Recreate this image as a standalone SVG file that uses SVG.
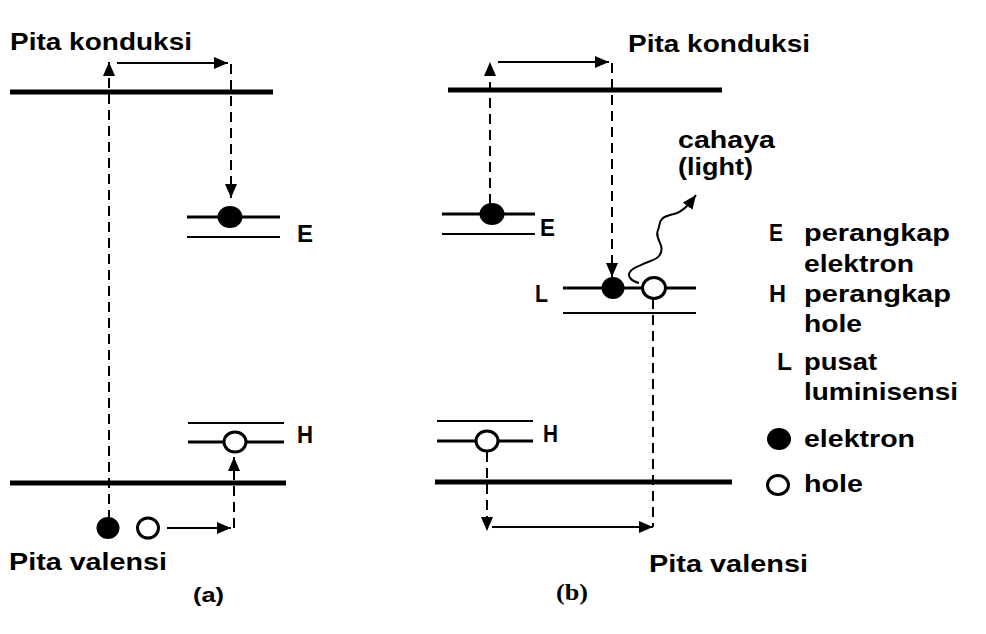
<svg xmlns="http://www.w3.org/2000/svg" width="986" height="634" viewBox="0 0 986 634">
<style>
.t{font-family:"Liberation Sans",Arial,sans-serif;font-weight:bold;font-size:24px;fill:#000}
.band{stroke:#000;stroke-width:5;fill:none}
.lvl{stroke:#000;stroke-width:3;fill:none}
.lvl2{stroke:#000;stroke-width:2;fill:none}
.dash{stroke:#000;stroke-width:2;fill:none;stroke-dasharray:10 6}
.sol{stroke:#000;stroke-width:2;fill:none}
.el{fill:#000}
.ho{fill:#fff;stroke:#000;stroke-width:3}
</style>
<defs>
<marker id="ah" viewBox="0 0 14 12" refX="14" refY="6" markerWidth="14" markerHeight="12" markerUnits="userSpaceOnUse" orient="auto">
<path d="M0,0 L14,6 L0,12 z" fill="#000"/>
</marker>
</defs>
<rect width="986" height="634" fill="#fff"/>

<g id="connectors">
<path class="dash" d="M109,520 L109,62" marker-end="url(#ah)"/>
<path class="sol" d="M117,63 L228,63" marker-end="url(#ah)"/>
<path class="dash" d="M231,64 L231,198" marker-end="url(#ah)"/>
<path class="dash" d="M234,528 L234,457" marker-end="url(#ah)"/>
<path class="sol" d="M167,528 L231,528" marker-end="url(#ah)"/>
<path class="dash" d="M490,204 L490,62" marker-end="url(#ah)"/>
<path class="sol" d="M498,62 L609,62" marker-end="url(#ah)"/>
<path class="dash" d="M612,63 L612,277" marker-end="url(#ah)"/>
<path class="sol" d="M639,283 C631,281 627,276 630,272 C633,267 638,267 643,264 C650,261 656,260 659,256 C663,251 662,247 660,243 C658,238 656,235 658,230 C660,225 659,222 662,219 C666,215 672,215 677,213 C682,211 685,208 688,205 C691,202 693,199 696,195" marker-end="url(#ah)"/>
<path class="dash" d="M653,299 L653,527"/>
<path class="dash" d="M487,452 L487,531" marker-end="url(#ah)"/>
<path class="sol" d="M492,527 L653,527" marker-end="url(#ah)"/>
</g>

<g id="a-conduction">
<line class="band" x1="10" y1="92" x2="273" y2="92"/>
<text class="t" x="10" y="50" textLength="182" lengthAdjust="spacingAndGlyphs">Pita konduksi</text>
</g>
<g id="a-E">
<line class="lvl" x1="187" y1="217" x2="280" y2="217"/>
<line class="lvl2" x1="187" y1="237" x2="280" y2="237"/>
<ellipse class="el" cx="230" cy="217" rx="12.5" ry="11"/>
<text class="t" x="297" y="242" textLength="16" lengthAdjust="spacingAndGlyphs">E</text>
</g>
<g id="a-H">
<line class="lvl2" x1="188" y1="423" x2="284" y2="423"/>
<line class="lvl" x1="188" y1="442" x2="284" y2="442"/>
<ellipse class="ho" cx="235" cy="442" rx="11" ry="10"/>
<text class="t" x="297" y="443" textLength="16" lengthAdjust="spacingAndGlyphs">H</text>
</g>
<g id="a-valence">
<line class="band" x1="10" y1="483" x2="286" y2="483"/>
<ellipse class="el" cx="108" cy="528" rx="11.5" ry="11"/>
<ellipse class="ho" cx="148" cy="528" rx="10.5" ry="10"/>
<text class="t" x="9" y="570" textLength="158" lengthAdjust="spacingAndGlyphs">Pita valensi</text>
</g>
<g id="a-caption">
<text x="193" y="602" style="font-family:'Liberation Sans',Arial,sans-serif;font-weight:bold;font-size:21px" textLength="31" lengthAdjust="spacingAndGlyphs">(a)</text>
</g>

<g id="b-conduction">
<line class="band" x1="448" y1="90" x2="722" y2="90"/>
<text class="t" x="628" y="52" textLength="182" lengthAdjust="spacingAndGlyphs">Pita konduksi</text>
</g>
<g id="b-E">
<line class="lvl" x1="442" y1="214" x2="535" y2="214"/>
<line class="lvl2" x1="442" y1="234" x2="535" y2="234"/>
<ellipse class="el" cx="492" cy="214" rx="12.5" ry="11"/>
<text class="t" x="540" y="236" textLength="15" lengthAdjust="spacingAndGlyphs">E</text>
</g>
<g id="b-L">
<line class="lvl" x1="563" y1="288" x2="696" y2="288"/>
<line class="lvl2" x1="563" y1="313" x2="696" y2="313"/>
<ellipse class="el" cx="613" cy="288" rx="11.5" ry="11"/>
<ellipse class="ho" cx="654" cy="288" rx="11.5" ry="10.5"/>
<text class="t" x="535" y="302" textLength="13" lengthAdjust="spacingAndGlyphs">L</text>
</g>
<g id="b-light">
<text class="t" x="678" y="148" textLength="97" lengthAdjust="spacingAndGlyphs">cahaya</text>
<text class="t" x="678" y="175" textLength="75" lengthAdjust="spacingAndGlyphs">(light)</text>
</g>
<g id="b-H">
<line class="lvl2" x1="437" y1="421" x2="533" y2="421"/>
<line class="lvl" x1="437" y1="441" x2="533" y2="441"/>
<ellipse class="ho" cx="487" cy="441" rx="11" ry="10"/>
<text class="t" x="543" y="442" textLength="15" lengthAdjust="spacingAndGlyphs">H</text>
</g>
<g id="b-valence">
<line class="band" x1="435" y1="482" x2="732" y2="482"/>
<text class="t" x="649" y="572" textLength="159" lengthAdjust="spacingAndGlyphs">Pita valensi</text>
</g>
<g id="b-caption">
<text x="556" y="600" style="font-family:'Liberation Serif','Times New Roman',serif;font-weight:bold;font-size:23px" textLength="32" lengthAdjust="spacingAndGlyphs">(b)</text>
</g>

<g id="legend">
<text class="t" x="769" y="241" textLength="14" lengthAdjust="spacingAndGlyphs">E</text>
<text class="t" x="804" y="241" textLength="146" lengthAdjust="spacingAndGlyphs">perangkap</text>
<text class="t" x="804" y="272" textLength="110" lengthAdjust="spacingAndGlyphs">elektron</text>
<text class="t" x="769" y="302" textLength="17" lengthAdjust="spacingAndGlyphs">H</text>
<text class="t" x="804" y="302" textLength="147" lengthAdjust="spacingAndGlyphs">perangkap</text>
<text class="t" x="804" y="332" textLength="58" lengthAdjust="spacingAndGlyphs">hole</text>
<text class="t" x="777" y="370" textLength="15" lengthAdjust="spacingAndGlyphs">L</text>
<text class="t" x="804" y="370" textLength="73" lengthAdjust="spacingAndGlyphs">pusat</text>
<text class="t" x="804" y="400" textLength="154" lengthAdjust="spacingAndGlyphs">luminisensi</text>
<ellipse class="el" cx="779" cy="439" rx="12" ry="11"/>
<text class="t" x="804" y="447" textLength="111" lengthAdjust="spacingAndGlyphs">elektron</text>
<ellipse class="ho" cx="778" cy="485" rx="10.5" ry="9.5"/>
<text class="t" x="804" y="492" textLength="59" lengthAdjust="spacingAndGlyphs">hole</text>
</g>
</svg>
